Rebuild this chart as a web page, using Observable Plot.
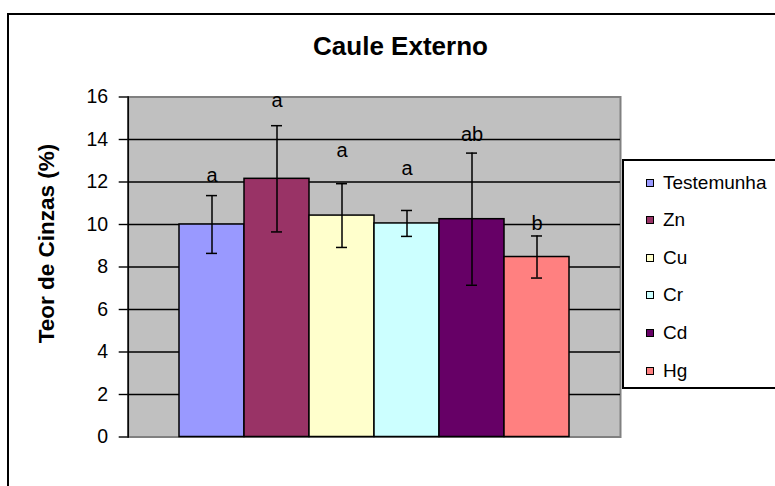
<!DOCTYPE html>
<html>
<head>
<meta charset="utf-8">
<script src="https://cdn.jsdelivr.net/npm/d3@7"></script>
<script src="https://cdn.jsdelivr.net/npm/@observablehq/plot@0.6"></script>
<style>
  html, body { margin: 0; padding: 0; background: #fff; overflow: hidden; }
  body { width: 775px; height: 486px; position: relative; font-family: "Liberation Sans", Arial, sans-serif; }
  #chart { position: absolute; left: 0; top: 0; }
  #border { position: absolute; left: 7px; top: 13px; width: 800px; height: 500px; border: 2px solid #000; box-sizing: border-box; }
  #title { position: absolute; left: 0; width: 801px; top: 31px; line-height: 30px; text-align: center; font-weight: bold; font-size: 26px; color: #000; }
  #legend { position: absolute; left: 622px; top: 159px; width: 200px; height: 230px; border: 2px solid #000; box-sizing: border-box; background: #fff; }
  .item { position: absolute; left: 22px; font-size: 19px; line-height: 20px; color: #000; white-space: nowrap; }
  .sw { position: absolute; left: 0; top: 6px; width: 6px; height: 6px; border: 1.5px solid #000; }
  .lab { position: absolute; left: 17px; top: 0; }
</style>
</head>
<body>
<div id="border"></div>
<div id="chart"></div>
<div id="title">Caule Externo</div>
<div id="legend"></div>
<script>
// ---- data ----
const categories = ["Testemunha", "Zn", "Cu", "Cr", "Cd", "Hg"];
const means = [10.0, 12.15, 10.42, 10.05, 10.25, 8.47];
const errors = [1.36, 2.5, 1.5, 0.61, 3.11, 0.99];
const letters = ["a", "a", "a", "a", "ab", "b"];
const letterY = [11.98, 15.55, 13.2, 12.35, 13.95, 9.72];
const colors = ["#9999FF", "#993366", "#FFFFCC", "#CCFFFF", "#660066", "#FF8080"];
const yTicks = [0, 2, 4, 6, 8, 10, 12, 14, 16];
const gridValues = [2, 4, 6, 8, 10, 12, 14];
const yLabel = "Teor de Cinzas (%)";

const data = categories.map((c, i) => ({
  name: c, mean: means[i], lo: means[i] - errors[i], hi: means[i] + errors[i],
  letter: letters[i], ly: letterY[i]
}));

const chart = Plot.plot({
  width: 775,
  height: 486,
  marginTop: 96.5,
  marginBottom: 49.5,
  marginLeft: 127.7,
  marginRight: 155,
  style: { fontFamily: "'Liberation Sans', Arial, sans-serif", background: "transparent", overflow: "visible" },
  x: { domain: categories, type: "band", paddingInner: 0, paddingOuter: 0.73, axis: null },
  y: { domain: [0, 16], axis: null },
  color: { domain: categories, range: colors },
  marks: [
    Plot.frame({ fill: "#c0c0c0", stroke: "#808080", strokeWidth: 2 }),
    Plot.ruleY(gridValues, { stroke: "#000", strokeWidth: 1.4 }),
    Plot.frame({ anchor: "left", stroke: "#000", strokeWidth: 1.5 }),
    Plot.axisY({ ticks: yTicks, tickSize: 9, tickPadding: 11, fontSize: 19.5, tickFormat: d => String(d), stroke: "#000", strokeWidth: 1.4, color: "#000", label: null }),
    Plot.barY(data, { x: "name", y: "mean", fill: "name", stroke: "#000", strokeWidth: 1.5, inset: 0 }),
    Plot.ruleX(data, { x: "name", y1: "lo", y2: "hi", stroke: "#000", strokeWidth: 1.5 }),
    Plot.tickY(data, { x: "name", y: "lo", stroke: "#000", strokeWidth: 1.5, inset: 27 }),
    Plot.tickY(data, { x: "name", y: "hi", stroke: "#000", strokeWidth: 1.5, inset: 27 }),
    Plot.text(data, { x: "name", y: "ly", text: "letter", fontSize: 20, fill: "#000", lineAnchor: "middle", dy: -6.4 }),
    Plot.text([yLabel], { text: d => d, frameAnchor: "left", textAnchor: "middle", lineAnchor: "bottom", dx: -74, dy: -23.5, rotate: -90, fontSize: 22.5, fontWeight: "bold", fill: "#000" })
  ]
});
document.getElementById("chart").appendChild(chart);

// legend
const legend = document.getElementById("legend");
categories.forEach((c, i) => {
  const it = document.createElement("div");
  it.className = "item";
  it.style.top = (11.5 + i * 37.6) + "px";
  const sw = document.createElement("span");
  sw.className = "sw";
  sw.style.background = colors[i];
  const lab = document.createElement("span");
  lab.className = "lab";
  lab.textContent = c;
  it.appendChild(sw);
  it.appendChild(lab);
  legend.appendChild(it);
});
</script>
</body>
</html>
